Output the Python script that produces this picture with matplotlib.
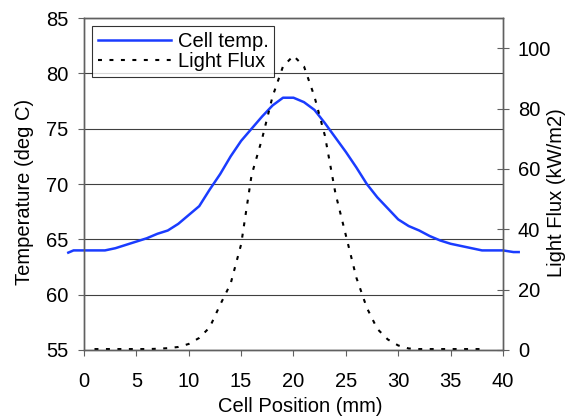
import matplotlib.pyplot as plt
import numpy as np

plt.rcParams['font.family'] = ['Liberation Sans', 'DejaVu Sans']

# Cell temperature along the cell (deg C)
temp_x = [-1.5, -1, 0, 1, 2, 3, 4, 5, 6, 7, 8, 9, 10, 11, 12, 13, 14, 15, 16, 17, 18,
          19, 20, 21, 22, 23, 24, 25, 26, 27, 28, 29, 30, 31, 32, 33, 34, 35, 36, 37,
          38, 39, 40, 41, 41.5]
temp_y = [63.8, 64.0, 64.0, 64.0, 64.0, 64.2, 64.5, 64.8, 65.1, 65.5, 65.8, 66.4, 67.2,
          68.0, 69.5, 70.9, 72.5, 73.9, 75.0, 76.1, 77.1, 77.8, 77.8, 77.4, 76.7, 75.5,
          74.2, 72.9, 71.5, 70.0, 68.8, 67.8, 66.8, 66.2, 65.8, 65.3, 64.9, 64.6, 64.4,
          64.2, 64.0, 64.0, 64.0, 63.85, 63.85]

# Light flux (kW/m2)
flux_x = list(range(1, 39))
flux_y = [0.3, 0.3, 0.3, 0.3, 0.3, 0.3, 0.4, 0.6, 1.0, 2.0, 4.0, 7.5, 15, 22, 35, 58,
          70, 84, 94, 97.5, 94, 84, 71, 52, 38, 24, 14, 7, 3.5, 1.5, 0.5, 0.3, 0.3,
          0.3, 0.3, 0.3, 0.3, 0.3]

axis_grey = '#606060'
fs = 14.5

fig = plt.figure(figsize=(5.81, 4.20), dpi=100)
ax = fig.add_axes([0.1446, 0.1667, 0.8657 - 0.1446, 0.957 - 0.1667])
ax2 = ax.twinx()

l1, = ax.plot(temp_x, temp_y, color='#1a3cff', lw=1.8, clip_on=False, label='Cell temp.')
l2, = ax2.plot(flux_x, flux_y, color='black', lw=1.5, linestyle=(0, (1.9, 3.6)),
               label='Light Flux')

ax.set_xlim(0, 40)
ax.set_ylim(55, 85)
ax2.set_ylim(0, 110)
ax.set_xticks(range(0, 41, 5))
ax.set_yticks(range(55, 86, 5))
ax2.set_yticks(range(0, 101, 20))

ax.grid(axis='y', color='#404040', lw=0.8)
ax.set_axisbelow(True)

for a in (ax, ax2):
    for s in a.spines.values():
        s.set_color(axis_grey)
        s.set_linewidth(1.0)
ax.tick_params(axis='both', direction='out', length=4.5, color=axis_grey, labelsize=fs)
ax.tick_params(axis='x', pad=11)
ax.tick_params(axis='y', pad=7)
ax2.tick_params(axis='y', direction='inout', length=8.6, color=axis_grey,
                labelsize=fs, pad=6.5)

ax.set_xlabel('Cell Position (mm)', fontsize=fs)
ax.set_ylabel('Temperature (deg C)', fontsize=fs)
ax2.set_ylabel('Light Flux (kW/m2)', fontsize=fs)
ax.xaxis.set_label_coords(0.515, -0.1415)
ax.yaxis.set_label_coords(-0.119, 0.477)
ax2.yaxis.set_label_coords(1.104, 0.473)

leg = ax2.legend([l1, l2], ['Cell temp.', 'Light Flux'], loc='upper left',
                 bbox_to_anchor=(0.019, 0.976), fontsize=fs, handlelength=3.6,
                 frameon=True, fancybox=False, borderpad=0.3, labelspacing=0.05,
                 handletextpad=0.35, borderaxespad=0)
leg.get_frame().set_edgecolor('black')
leg.get_frame().set_linewidth(0.8)

fig.savefig('out.png', dpi=100)
